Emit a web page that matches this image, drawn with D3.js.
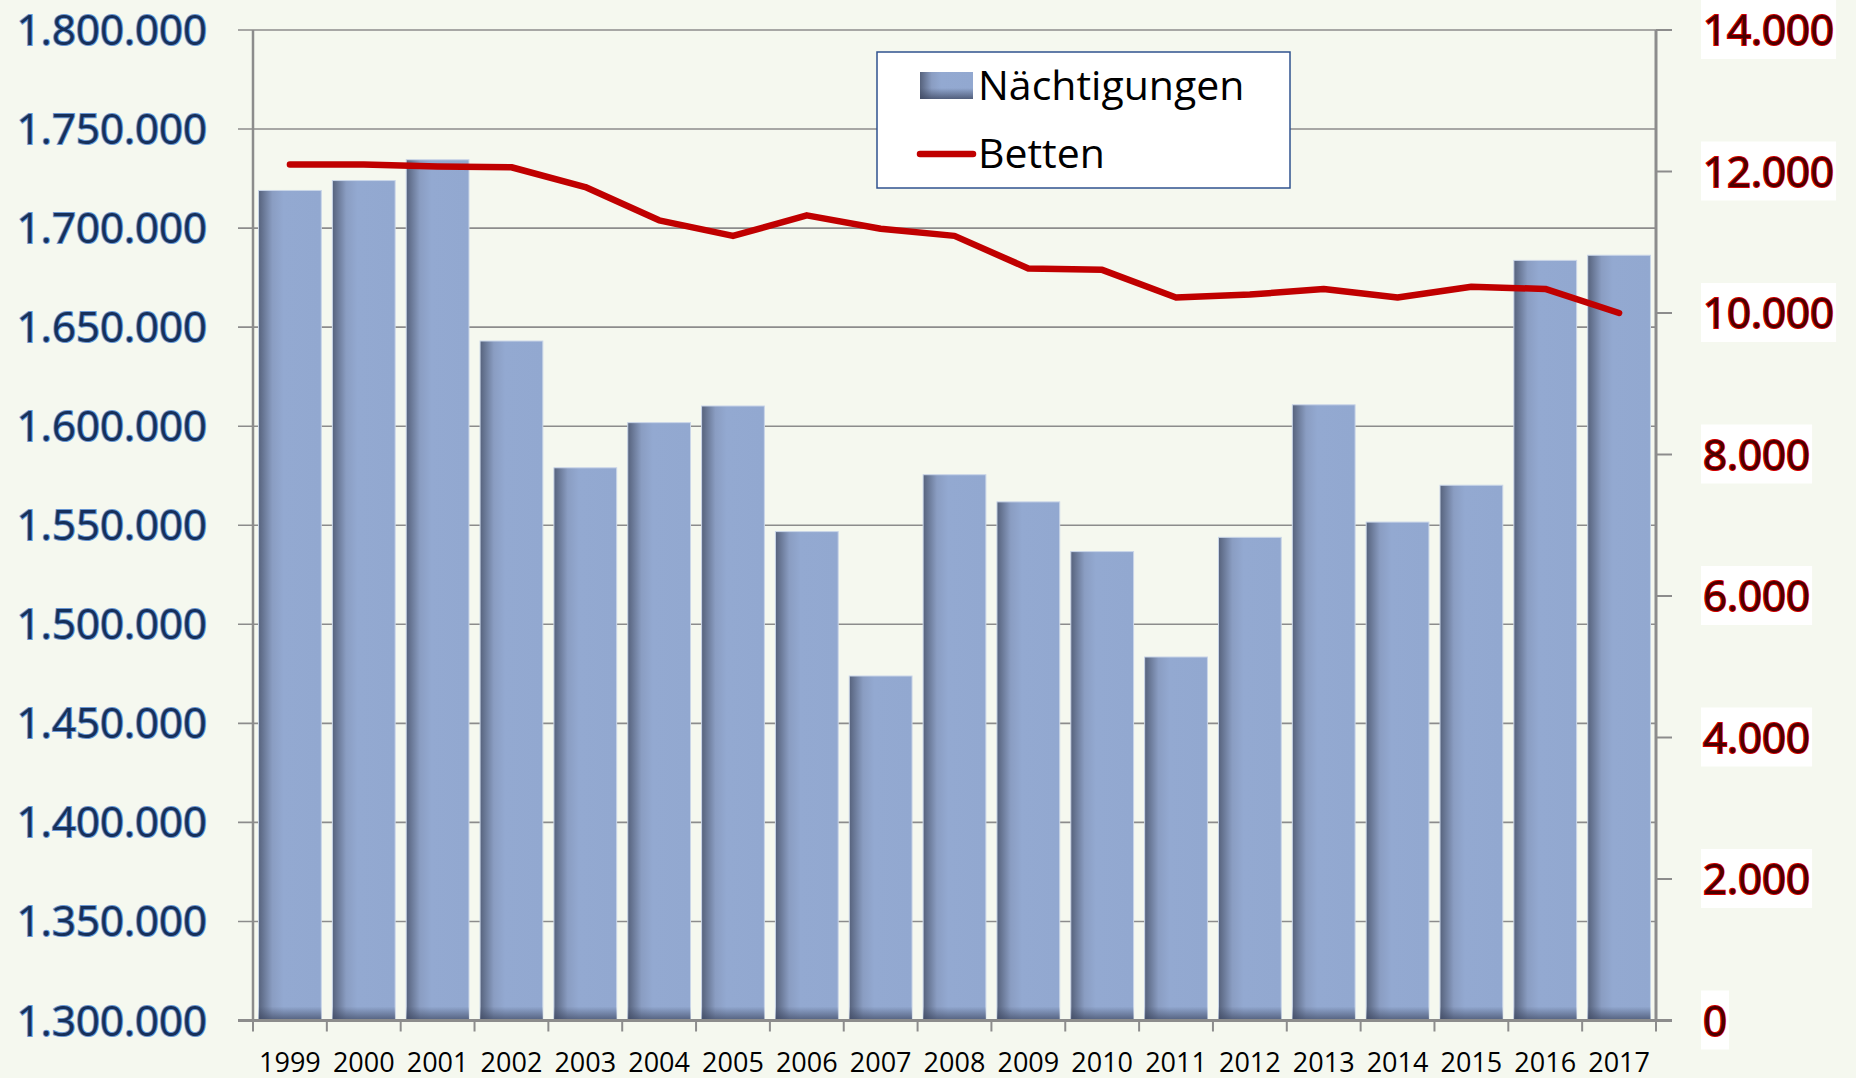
<!DOCTYPE html>
<meta charset="utf-8">
<script src="https://d3js.org/d3.v7.min.js"></script>
<style>
  body { margin: 0; background: #f5f8ef; }
  text { font-family: "Open Sans", sans-serif; }
</style>
<div id="chart"></div>
<script>

// data
var years = ["1999","2000","2001","2002","2003","2004","2005","2006","2007","2008",
             "2009","2010","2011","2012","2013","2014","2015","2016","2017"];
var naechtigungen = [1719000, 1724000, 1734500, 1643000, 1579000, 1601800, 1610200, 1546800, 1473900, 1575500,
                     1561800, 1536700, 1483500, 1543900, 1610800, 1551600, 1570200, 1683700, 1686300];
var betten = [12100, 12100, 12070, 12060, 11780, 11310, 11090, 11380, 11190, 11090,
              10630, 10610, 10220, 10260, 10340, 10220, 10370, 10340, 10000];
var leftTicks = [1300000, 1350000, 1400000, 1450000, 1500000, 1550000, 1600000, 1650000, 1700000, 1750000, 1800000];
var rightTicks = [0, 2000, 4000, 6000, 8000, 10000, 12000, 14000];

var margin = {top: 30, left: 253},
    width = 1403,
    height = 990.5;

var de = d3.formatLocale({decimal: ",", thousands: ".", grouping: [3], currency: ["", "€"]});
var fmt = de.format(",d");

var svg = d3.select("#chart").append("svg")
    .attr("width", 1856)
    .attr("height", 1078);

var defs = svg.append("defs");
var gH = defs.append("linearGradient").attr("id", "barH");
gH.append("stop").attr("offset", "0%").attr("stop-color", "#56627c");
gH.append("stop").attr("offset", "22%").attr("stop-color", "#8a9dc2");
gH.append("stop").attr("offset", "40%").attr("stop-color", "#93a9d1");
gH.append("stop").attr("offset", "100%").attr("stop-color", "#92a8d0");
var gV = defs.append("linearGradient").attr("id", "barV")
    .attr("x1", 0).attr("y1", 0).attr("x2", 0).attr("y2", 1);
gV.append("stop").attr("offset", "0%").attr("stop-color", "#3c4660").attr("stop-opacity", 0);
gV.append("stop").attr("offset", "100%").attr("stop-color", "#3c4660").attr("stop-opacity", 0.75);

var g = svg.append("g")
    .attr("transform", "translate(" + margin.left + "," + margin.top + ")");

// scales
var x = d3.scaleBand()
  .domain(years)
  .range([0, width])
  .paddingInner(0.15)
  .paddingOuter(0.075);

var y = d3.scaleLinear()
  .domain([1300000, 1800000])
  .range([height, 0]);

var y2 = d3.scaleLinear()
  .domain([0, 14000])
  .range([height, 0]);

// gridlines + left ticks
g.selectAll(".grid")
  .data(leftTicks)
  .enter().append("line")
    .attr("x1", -15)
    .attr("x2", function(d) { return d == 1800000 ? width + 16 : width; })
    .attr("y1", function(d) { return y(d); })
    .attr("y2", function(d) { return y(d); })
    .attr("stroke", "#8c8c8c")
    .attr("stroke-width", 1.6);

// bars
var bars = g.selectAll(".bar")
  .data(years)
  .enter().append("g");

bars.append("rect")
    .attr("x", function(d) { return x(d); })
    .attr("y", function(d, i) { return y(naechtigungen[i]); })
    .attr("width", x.bandwidth())
    .attr("height", function(d, i) { return height - y(naechtigungen[i]); })
    .attr("fill", "url(#barH)")
    .attr("stroke", "#c9d5e8")
    .attr("stroke-width", 1);

bars.append("rect")
    .attr("x", function(d) { return x(d); })
    .attr("y", height - 14)
    .attr("width", x.bandwidth())
    .attr("height", 14)
    .attr("fill", "url(#barV)");

// axes lines
g.append("line")
  .attr("x1", 0).attr("x2", 0).attr("y1", 0).attr("y2", height)
  .attr("stroke", "#8c8c8c").attr("stroke-width", 2.5);
g.append("line")
  .attr("x1", width).attr("x2", width).attr("y1", 0).attr("y2", height)
  .attr("stroke", "#8c8c8c").attr("stroke-width", 3);
g.append("line")
  .attr("x1", -15).attr("x2", width + 16).attr("y1", height).attr("y2", height)
  .attr("stroke", "#8c8c8c").attr("stroke-width", 3);

// bottom ticks at band edges
var edges = years.map(function(d) { return x(d) - x.step() * x.paddingInner() / 2; });
edges.push(width);
g.selectAll(".xtick")
  .data(edges)
  .enter().append("line")
    .attr("x1", function(d) { return d; })
    .attr("x2", function(d) { return d; })
    .attr("y1", height)
    .attr("y2", height + 11)
    .attr("stroke", "#8c8c8c")
    .attr("stroke-width", 2);

// right ticks
g.selectAll(".rtick")
  .data(rightTicks)
  .enter().append("line")
    .attr("x1", width)
    .attr("x2", width + 16)
    .attr("y1", function(d) { return y2(d); })
    .attr("y2", function(d) { return y2(d); })
    .attr("stroke", "#8c8c8c")
    .attr("stroke-width", 2);

// x labels
g.selectAll(".xlab")
  .data(years)
  .enter().append("text")
    .attr("x", function(d) { return x(d) + x.bandwidth() / 2; })
    .attr("y", height + 51)
    .attr("text-anchor", "middle")
    .style("font-size", "27px")
    .attr("fill", "#000")
    .text(function(d) { return d; });

// left labels
g.selectAll(".ylab")
  .data(leftTicks)
  .enter().append("text")
    .attr("x", -46)
    .attr("y", function(d) { return y(d) + 15; })
    .attr("text-anchor", "end")
    .style("font-size", "42px")
    .attr("fill", "#16305a")
    .attr("stroke", "#6a98d4")
    .attr("stroke-width", 2)
    .attr("paint-order", "stroke")
    .text(function(d) { return fmt(d); });

// right labels with white boxes
var rl = g.selectAll(".y2lab")
  .data(rightTicks)
  .enter().append("g");
var rtxt = rl.append("text")
    .attr("x", width + 47)
    .attr("y", function(d) { return y2(d) + 15; })
    .style("font-size", "42px")
    .attr("fill", "#4a0000")
    .attr("stroke", "#d40000")
    .attr("stroke-width", 2)
    .attr("paint-order", "stroke")
    .text(function(d) { return fmt(d); });
rl.each(function(d) {
  var t = d3.select(this).select("text");
  var bb = t.node().getBBox();
  d3.select(this).insert("rect", "text")
    .attr("x", bb.x - 2)
    .attr("y", y2(d) - 30)
    .attr("width", bb.width + 4)
    .attr("height", 59)
    .attr("fill", "#ffffff");
});

// Betten line
var line = d3.line()
  .x(function(d, i) { return x(years[i]) + x.bandwidth() / 2; })
  .y(function(d) { return y2(d); });

g.append("path")
  .datum(betten)
  .attr("d", line)
  .attr("fill", "none")
  .attr("stroke", "#c00000")
  .attr("stroke-width", 6.5)
  .attr("stroke-linecap", "round")
  .attr("stroke-linejoin", "round");

// legend
var leg = svg.append("g").attr("transform", "translate(877,52)");
leg.append("rect")
  .attr("width", 413).attr("height", 136)
  .attr("fill", "#ffffff")
  .attr("stroke", "#2f528f")
  .attr("stroke-width", 1.5);
leg.append("rect")
  .attr("x", 43).attr("y", 20).attr("width", 53).attr("height", 27)
  .attr("fill", "url(#barH)");
leg.append("rect")
  .attr("x", 43).attr("y", 36).attr("width", 53).attr("height", 11)
  .attr("fill", "url(#barV)");
leg.append("text")
  .attr("x", 101).attr("y", 48)
  .style("font-size", "41px")
  .attr("fill", "#000")
  .text("Nächtigungen");
leg.append("line")
  .attr("x1", 43).attr("x2", 96).attr("y1", 102).attr("y2", 102)
  .attr("stroke", "#c00000").attr("stroke-width", 6.5)
  .attr("stroke-linecap", "round");
leg.append("text")
  .attr("x", 101).attr("y", 116)
  .style("font-size", "41px")
  .attr("fill", "#000")
  .text("Betten");

</script>
